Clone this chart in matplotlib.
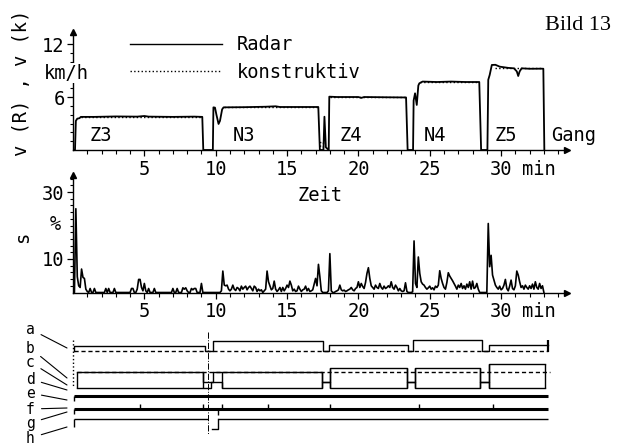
import numpy as np
import matplotlib
matplotlib.use("Agg")
import matplotlib.pyplot as plt
from matplotlib.lines import Line2D

plt.rcParams['font.family'] = ['DejaVu Sans Mono']
plt.rcParams['font.size'] = 13.5

# --- speed v(R) from radar, km/h (time in min) ---
radar_t = [0.0, 0.14, 0.2, 0.3, 0.45, 0.55, 1.5, 3.0, 4.5, 5.0, 5.3, 7.0, 8.5, 9.06, 9.13,
           9.8, 9.84, 9.95, 10.05, 10.2, 10.3, 10.45, 10.55, 12.0, 13.5, 14.2, 14.5, 16.0, 17.19,
           17.3, 17.55, 17.62, 17.72, 17.92,
           17.96, 18.5, 20.0, 20.2, 20.4, 22.0, 23.34, 23.45, 23.83,
           23.87, 23.97, 24.09, 24.2, 24.27, 24.5, 25.5, 26.5, 27.5, 28.47, 28.6, 29.04,
           29.1, 29.2, 29.35, 29.6, 29.9, 30.5, 30.9, 31.1, 31.2, 31.3, 31.44, 32.0, 32.84, 32.96, 33.03]
radar_v = [0, 0, 3.3, 3.55, 3.6, 3.75, 3.75, 3.8, 3.78, 3.85, 3.78, 3.75, 3.78, 3.75, 0,
           0, 4.83, 4.8, 4.0, 2.95, 3.3, 4.6, 4.83, 4.85, 4.9, 4.95, 4.87, 4.87, 4.87,
           0, 0, 3.77, 0.3, 0,
           6.04, 6.0, 6.0, 5.9, 6.0, 5.97, 5.95, 0, 0,
           5.6, 6.42, 5.1, 7.3, 7.55, 7.75, 7.7, 7.75, 7.7, 7.7, 0, 0,
           7.95, 8.5, 9.63, 9.65, 9.44, 9.3, 9.25, 8.9, 8.38, 8.9, 9.25, 9.2, 9.21, 9.2, 0]

# --- speed v(k) konstruktiv ---
konstr_t = [0.55, 9.06, np.nan, 10.55, 17.19, np.nan, 17.3, 17.3, 17.55, 17.55, np.nan,
            18.0, 23.34, np.nan, 24.3, 28.47, np.nan, 29.6, 32.96]
konstr_v = [3.75, 3.75, np.nan, 4.87, 4.87, np.nan, 0.0, 0.9, 0.9, 0.0, np.nan,
            6.0, 6.0, np.nan, 7.72, 7.72, np.nan, 9.25, 9.25]

gear_names = ['Z3', 'N3', 'Z4', 'N4', 'Z5']
gear_label_t = [1.96, 12.0, 19.5, 25.4, 30.3]

# --- slip s in %, sampled every 0.1 min ---
slip = [
    0, 0, 25, 4.7, 2, 1.5, 7, 4.5, 4.2, 1.0,
    0.3, 0, 1.2, 0, 0, 1.2, 0, 0, 0, 0,
    0, 0, 0, 1.2, 0, 1.2, 0, 0, 0, 1.2,
    0, 0, 0, 0, 0, 0, 0, 0, 0, 0,
    0, 1.2, 1.2, 0, 0, 1.0, 3.9, 3.9, 1.5, 0.5,
    2.7, 0.5, 0, 1.2, 0, 0, 0, 1.2, 0, 0,
    0, 0, 0, 0, 0, 0, 0, 0, 0, 0,
    1.2, 0, 0, 1.2, 0, 0, 0, 1.4, 1.0, 1.4,
    0.5, 0, 0, 1.2, 0.8, 1.2, 1.2, 0, 0, 0,
    2.7, 0, 0, 0, 0, 0, 0, 0, 0, 0,
    0, 0, 0, 0, 0.5, 6.4, 2.2, 2.0, 2.2, 1.0,
    0.5, 1.0, 2.2, 1.0, 0.6, 1.5, 1.2, 0.5, 1.9, 1.0,
    1.5, 1.9, 0.8, 1.5, 1.9, 1.2, 0.5, 1.9, 1.5, 0.3,
    1.0, 0.5, 0.8, 0, 0.5, 1.0, 6.4, 3.2, 2.0, 0.8,
    1.2, 3.4, 1.0, 0.3, 0.8, 1.5, 0.3, 1.5, 0.5, 1.2,
    2.2, 1.5, 3.4, 2.2, 0.5, 1.0, 0.3, 0.5, 1.9, 1.0,
    0.3, 0.8, 1.0, 1.9, 0.5, 1.2, 0.3, 0.5, 0.8, 2.5,
    4.2, 2.0, 8.4, 4.7, 0.5, 0, 0, 0, 0, 0.5,
    11.6, 0.5, 0, 0, 0.3, 0.5, 0.8, 2.2, 0.8, 0.5,
    0.7, 0.3, 0.5, 0.8, 1.0, 1.5, 0.8, 0.5, 1.2, 1.5,
    3.2, 1.5, 2.7, 1.8, 1.2, 3.0, 5.7, 7.4, 4.2, 2.0,
    1.5, 1.0, 2.2, 1.5, 1.2, 2.7, 1.5, 1.0, 1.9, 1.2,
    1.5, 2.0, 1.5, 3.2, 1.5, 1.0, 2.2, 1.5, 0.5, 1.2,
    0.5, 0.3, 0.5, 2.9, 0.3, 0, 0, 0, 0.2, 15.4,
    2.7, 1.5, 10.6, 5.7, 3.2, 2.5, 2.2, 1.5, 1.0, 1.4,
    1.9, 1.0, 1.4, 0.8, 1.9, 1.5, 2.2, 6.5, 4.2, 2.7,
    1.5, 1.0, 3.0, 5.9, 4.9, 4.2, 3.5, 2.7, 1.9, 1.0,
    2.2, 1.5, 2.7, 1.2, 2.0, 1.0, 2.5, 1.5, 3.2, 1.0,
    3.4, 1.2, 1.5, 2.7, 1.0, 0, 0, 0, 0, 0,
    0, 20.6, 7.7, 11.1, 5.2, 3.7, 2.2, 1.5, 1.0, 1.9,
    0.8, 1.2, 2.2, 3.9, 1.2, 0.5, 1.9, 3.7, 1.2, 0.8,
    2.0, 6.4, 5.2, 3.2, 1.5, 2.0, 1.0, 2.2, 1.5, 1.0,
    2.0, 1.2, 2.5, 1.0, 3.2, 1.5, 1.0, 2.7, 1.2, 2.0,
    0]
slip_t = np.arange(len(slip)) * 0.1

# --- signal traces a..h (levels counted downward) ---
sig_a_t = [0.07, 0.07, 9.25, 9.79, 17.5, 17.97, 23.5, 23.85, 28.64, 29.17, 33.3]
sig_a_y = [31, 26, 31, 20.7, 31, 25, 31, 20, 31, 25, 25]
box_start = [0.26, 10.42, 18.0, 23.97, 29.17]
box_end = [9.13, 17.43, 23.38, 28.52, 33.08]
box_top = [51.7, 51.7, 47.5, 47.5, 44]
box_u_t = [0.26, 9.13, 9.83, 17.43, 18.0, 23.38, 23.97, 28.52, 29.17, 33.08]
box_u_y = [51.7, 61.7, 51.7, 61.7, 47.5, 61.7, 47.5, 61.7, 44, 44]
box_l_t = [0.26, 9.65, 10.42, 17.43, 18.0, 23.38, 23.97, 28.52, 29.17, 33.08]
box_l_y = [68.3, 61.7, 68.3, 61.7, 68.3, 61.7, 68.3, 61.7, 68.3, 68.3]
f_marks = [4.7, 9.13, 10.42, 13.64, 18.0, 24.25, 29.41]
sig_names = ['a', 'b', 'c', 'd', 'e', 'f', 'g', 'h']
name_y = [9, 28, 42, 59, 73, 89, 103, 118]
leader_y = [28, 58, 65, 70, 80, 88, 92, 107]

px_per_min = 14.27
t_max = 34.6

fig = plt.figure(figsize=(6.17, 4.44), dpi=100)
left = 73 / 617
width = t_max * px_per_min / 617
ax1 = fig.add_axes([left, 1 - 150 / 444, width, 13.4 * 8.83 / 444])
ax2 = fig.add_axes([left, 1 - 292.5 / 444, width, 35.1 * 3.35 / 444])
ax3 = fig.add_axes([left, 0, width, 124 / 444])

for ax, ytop in [(ax1, 13.4), (ax2, 35.1)]:
    ax.set_xlim(0, t_max)
    ax.set_ylim(0, ytop)
    for side in ['top', 'right']:
        ax.spines[side].set_visible(False)
    ax.spines['left'].set_linewidth(1.0)
    ax.spines['bottom'].set_linewidth(1.0)
    ax.set_xticks([5, 10, 15, 20, 25, 30])
    ax.set_xticks(np.arange(1, 35), minor=True)
    ax.tick_params(axis='x', which='major', length=4, width=0.9, pad=3)
    ax.tick_params(axis='x', which='minor', length=3, width=0.8)
    ax.tick_params(axis='y', which='major', length=4, width=0.9, pad=2)
    ax.tick_params(axis='y', which='minor', length=2, width=0.8)
    ax.plot(1, 0, '>', color='k', ms=5, transform=ax.get_yaxis_transform(), clip_on=False)
    ax.plot(0, 1, '^', color='k', ms=5, transform=ax.get_xaxis_transform(), clip_on=False)
    ax.annotate('min', xy=(31.45, 0), xycoords=('data', 'axes fraction'),
                xytext=(0, -7), textcoords='offset points', ha='left', va='top')

# top panel: speed
ax1.plot(radar_t, radar_v, color='k', lw=1.3)
ax1.plot(konstr_t, konstr_v, color='k', lw=1.0, ls=':')
ax1.set_yticks([6, 12])
ax1.set_yticks(np.arange(1, 14), minor=True)
ax1.text(-0.44, 8.7, 'km/h', ha='center', va='center',
         bbox=dict(facecolor='white', edgecolor='none', pad=0.5), clip_on=False)
ax1.text(-3.6, 7.6, 'v (R) , v (k)', rotation=90, ha='center', va='center', clip_on=False)
for name, t in zip(gear_names, gear_label_t):
    ax1.text(t, 1.6, name, ha='center', va='center')
ax1.text(35.1, 1.6, 'Gang', ha='center', va='center', clip_on=False)
handles = [Line2D([], [], color='k', lw=1.0), Line2D([], [], color='k', lw=1.0, ls=':')]
ax1.legend(handles, ['Radar', 'konstruktiv'], loc='center left', bbox_to_anchor=(0.1155, 0.7735),
           frameon=False, handlelength=4.9, handletextpad=0.8, labelspacing=0.45,
           borderpad=0, borderaxespad=0, fontsize=13.5)

# middle panel: slip
ax2.plot(slip_t, slip, color='k', lw=1.2)
ax2.set_yticks([10, 30])
ax2.set_yticks(np.arange(2, 35, 2), minor=True)
ax2.text(-1.26, 20.3, '%', ha='center', va='center', clip_on=False)
ax2.text(-3.5, 16.6, 's', rotation=90, ha='center', va='center', clip_on=False)
ax2.text(17.3, 29.1, 'Zeit', ha='center', va='center')

# bottom panel: signal traces
ax3.set_xlim(0, t_max)
ax3.set_ylim(124, 0)
ax3.axis('off')
ax3.plot(sig_a_t, sig_a_y, color='k', lw=1.0, drawstyle='steps-post')
ax3.hlines(31, 0.07, 33.3, colors='k', lw=1.0, linestyles=(0, (3, 2)))
ax3.vlines(33.3, 20, 32, colors='k', lw=1.6)
ax3.plot(box_u_t, box_u_y, color='k', lw=1.0, drawstyle='steps-post')
ax3.plot(box_l_t, box_l_y, color='k', lw=1.0, drawstyle='steps-post')
ax3.vlines(box_start, box_top, 68.3, colors='k', lw=1.0)
ax3.vlines(box_end, box_top, 68.3, colors='k', lw=1.0)
ax3.hlines(51.7, 0.26, 33.4, colors='k', lw=1.0, linestyles=(0, (3, 2)))
ax3.hlines(76, 0.07, 33.3, colors='k', lw=2.2)
ax3.hlines(89.3, 0.07, 33.3, colors='k', lw=2.2)
ax3.vlines(f_marks, 83.5, 89.3, colors='k', lw=1.0)
ax3.vlines(10.18, 89.3, 95, colors='k', lw=1.0)
ax3.hlines([99.3, 99.3], [0.07, 10.18], [9.48, 33.3], colors='k', lw=1.0)
ax3.plot([9.72, 10.18, 10.18], [109.3, 109.3, 99.3], color='k', lw=1.0)
ax3.vlines([0.07, 0.07, 0.07], [76, 89.3, 99.3], [81, 94, 107], colors='k', lw=1.0)
ax3.vlines(9.48, 11.7, 115, colors='k', lw=0.7, linestyles='dashdot')
ax3.vlines(-0.02, 20, 67, colors='k', lw=1.0, linestyles=':', clip_on=False)
for name, y, ly in zip(sig_names, name_y, leader_y):
    ax3.annotate(name, xy=(-0.42, ly), xytext=(-3.0, y), ha='center', va='center',
                 fontsize=10.5, annotation_clip=False,
                 arrowprops=dict(arrowstyle='-', color='k', lw=0.8, shrinkA=3, shrinkB=0))

fig.text(578 / 617, 1 - 26 / 444, 'Bild 13', family='Liberation Serif', fontsize=16,
         ha='center', va='center')

fig.savefig('out.png', dpi=100)
